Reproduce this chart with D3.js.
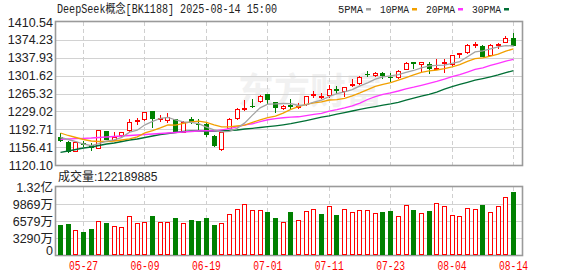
<!DOCTYPE html>
<html>
<head>
<meta charset="utf-8">
<script src="https://cdn.jsdelivr.net/npm/d3@7"></script>
<style>
  body { margin: 0; background: #fff; }
  #chart text { font-family: "Liberation Sans", Arial, "Noto Sans CJK SC", sans-serif; }
</style>
</head>
<body>
<div id="chart"></div>
<script>
const titleText = "DeepSeek概念[BK1188] 2025-08-14 15:00";
const lastVolume = 122189885;

const dates = ["05-22","05-23","05-26","05-27","05-28","05-29","05-30","06-03","06-04","06-05",
  "06-06","06-09","06-10","06-11","06-12","06-13","06-16","06-17","06-18","06-19",
  "06-20","06-23","06-24","06-25","06-26","06-27","06-30","07-01","07-02","07-03",
  "07-04","07-07","07-08","07-09","07-10","07-11","07-14","07-15","07-16","07-17",
  "07-18","07-21","07-22","07-23","07-24","07-25","07-28","07-29","07-30","07-31",
  "08-01","08-04","08-05","08-06","08-07","08-08","08-11","08-12","08-13","08-14"];

const openP = [1175.96,1166.21,1147.11,1165.39,1160.72,1153.61,1189.16,1169.86,1178.39,1189.16,
  1208.05,1212.11,1229.17,1210.89,1210.48,1213.12,1184.49,1214.14,1203.38,1203.38,
  1179.00,1149.96,1193.83,1213.53,1233.84,1239.93,1247.45,1264.31,1248.06,1233.23,
  1241.97,1235.26,1240.95,1261.26,1258.21,1260.25,1274.46,1268.98,1279.95,1283.60,
  1305.54,1300.87,1305.95,1297.82,1295.79,1313.05,1328.69,1323.82,1325.85,1313.66,
  1325.85,1322.60,1342.51,1346.97,1363.83,1362.41,1342.10,1362.41,1367.28,1378.66];

const closeP = [1169.86,1145.49,1166.21,1160.11,1154.63,1190.78,1171.89,1177.58,1186.52,1207.03,
  1210.89,1227.14,1212.92,1215.97,1216.58,1185.10,1208.45,1207.44,1202.36,1181.03,
  1158.69,1187.74,1212.92,1233.23,1235.87,1237.90,1260.25,1252.12,1234.86,1239.93,
  1237.29,1240.54,1259.23,1263.29,1259.64,1273.85,1269.39,1277.92,1284.62,1298.84,
  1303.51,1306.96,1300.87,1296.20,1311.02,1326.66,1325.24,1328.69,1315.09,1316.10,
  1329.91,1342.91,1346.97,1363.83,1365.86,1340.07,1363.83,1366.47,1377.03,1361.80];

const highP = [1185.10,1168.85,1167.83,1169.46,1165.39,1191.19,1190.17,1188.14,1188.14,1212.52,
  1215.56,1228.76,1229.78,1221.66,1224.70,1213.53,1209.47,1216.98,1212.92,1208.05,
  1181.03,1188.14,1215.56,1235.87,1252.12,1254.15,1261.26,1265.32,1249.07,1240.95,
  1253.54,1246.03,1260.25,1270.40,1266.95,1282.59,1280.56,1278.53,1294.17,1299.85,
  1311.63,1309.60,1308.99,1306.35,1312.04,1328.29,1329.30,1329.30,1328.69,1334.79,
  1335.40,1343.52,1347.58,1364.85,1370.53,1362.82,1364.85,1367.89,1381.10,1388.81];

const lowP = [1166.82,1144.47,1146.50,1157.27,1149.55,1153.21,1170.88,1169.46,1176.97,1188.14,
  1201.95,1209.47,1194.64,1207.44,1204.39,1184.08,1184.08,1203.38,1191.19,1176.36,
  1156.05,1149.55,1193.22,1211.50,1230.39,1235.26,1246.64,1244.00,1226.33,1232.42,
  1231.81,1233.23,1239.93,1255.17,1253.54,1255.57,1264.31,1258.21,1279.14,1282.59,
  1298.23,1298.23,1294.17,1289.29,1294.77,1312.45,1315.09,1306.96,1304.32,1313.05,
  1307.57,1321.18,1336.41,1345.55,1357.13,1339.46,1341.49,1355.71,1366.88,1361.80];

// volume in 万 (10k)
const volumeWan = [5780,5972,4759,4431,4951,6493,6165,5529,5337,7456,
  6107,6358,7514,6358,6358,7128,6165,6743,6608,7128,
  5780,6165,7899,8997,9826,8804,8804,8284,7128,6358,
  8284,6685,8477,8997,7899,9575,7706,8997,8227,8804,
  8804,8092,8284,8477,7514,9633,8670,8092,8477,10153,
  9440,7706,7514,9055,8862,9633,8284,9440,11174,12219];

const ma5 = [1175.96,1171.89,1167.83,1162.75,1159.30,1163.36,1168.64,1171.08,1176.36,1186.72,
  1190.78,1201.75,1208.86,1214.75,1216.78,1211.50,1207.84,1206.62,1203.98,1196.88,
  1191.59,1187.53,1188.55,1194.64,1205.61,1221.45,1236.08,1243.79,1244.20,1245.01,
  1244.81,1240.95,1242.37,1248.06,1251.92,1259.23,1265.12,1268.78,1273.04,1280.96,
  1286.85,1294.37,1299.04,1301.27,1303.71,1308.38,1312.04,1317.52,1321.38,1322.40,
  1323.01,1326.46,1330.12,1339.87,1349.82,1351.85,1356.11,1359.97,1362.61,1361.80];

const ma10 = [1185.10,1180.02,1175.96,1171.89,1168.85,1167.83,1167.83,1168.85,1170.88,1173.01,
  1177.11,1185.28,1189.95,1195.54,1201.73,1201.16,1204.82,1207.80,1209.39,1206.79,
  1201.57,1197.63,1197.63,1199.35,1201.28,1206.56,1211.74,1216.21,1219.46,1225.35,
  1233.21,1238.49,1243.12,1246.13,1248.51,1252.10,1253.02,1255.59,1260.57,1266.46,
  1273.08,1279.72,1283.89,1287.18,1292.32,1297.60,1303.18,1308.26,1311.31,1313.03,
  1315.67,1319.27,1323.88,1330.64,1336.13,1337.47,1341.33,1345.10,1351.30,1355.87];

const ma20 = [1172.30,1172.91,1173.52,1174.33,1174.94,1175.96,1176.97,1177.99,1179.00,1180.02,
  1181.03,1182.05,1183.06,1184.08,1185.10,1186.11,1187.13,1188.14,1189.16,1189.89,
  1189.34,1191.45,1193.79,1197.44,1201.51,1203.86,1208.27,1212.01,1214.42,1216.07,
  1217.39,1218.06,1220.38,1222.73,1224.88,1229.33,1232.38,1235.89,1240.02,1245.91,
  1253.14,1259.11,1263.50,1266.64,1270.40,1274.85,1278.10,1281.92,1285.94,1289.74,
  1294.37,1299.49,1303.87,1308.91,1314.21,1317.52,1322.26,1326.68,1331.29,1334.44];

const ma30 = [1145.90,1148.54,1151.58,1154.63,1156.66,1159.71,1162.75,1164.78,1167.83,1170.88,
  1172.91,1175.96,1179.00,1182.05,1184.08,1186.11,1188.14,1189.16,1189.16,1189.16,
  1189.16,1189.77,1190.17,1191.19,1193.22,1194.64,1196.27,1197.89,1199.72,1201.71,
  1203.96,1207.13,1210.24,1213.67,1217.17,1219.95,1223.20,1226.53,1229.80,1232.87,
  1235.95,1238.61,1241.54,1244.22,1247.37,1252.08,1255.98,1260.02,1263.78,1268.29,
  1274.00,1279.16,1283.62,1287.99,1292.32,1295.73,1299.18,1302.98,1307.73,1311.80];

const priceTicks = [1410.54,1374.23,1337.93,1301.62,1265.32,1229.02,1192.71,1156.41,1120.10];
const volumeTicks = [0, 3289.75, 6579.5, 9869.25, 13159];
const volumeTickLabels = ["0","3290万","6579万","9869万","1.32亿"];
const xLabelDates = ["05-27","06-09","06-19","07-01","07-11","07-23","08-04","08-14"];

const maNames = ["5PMA","10PMA","20PMA","30PMA"];
const maColors = ["#a3a3a3","#f2a000","#ff33ff","#006f35"];

let svg, xScale, yScale, yVolScale;
const RED = "#ff0000", GREEN = "#008000";
const plotLeft = 56, plotRight = 522;

document.addEventListener('DOMContentLoaded', function () {
    svg = d3.select("#chart").append("svg")
        .attr("width", 578)
        .attr("height", 276);

    xScale = d3.scalePoint().domain(dates).range([60, 513]);
    yScale = d3.scaleLinear().domain([1120.10, 1410.54]).range([165, 22]);
    yVolScale = d3.scaleLinear().domain([0, 13159]).range([255, 187]);

    createHeader();
    createPriceChart();
    createVolumeChart();
});

function px(v) { return Math.round(v) + 0.5; }

function createHeader() {
    svg.append("text")
        .attr("x", 57).attr("y", 13)
        .attr("textLength", 220).attr("lengthAdjust", "spacingAndGlyphs")
        .style("font-family", "'Liberation Mono', 'Noto Sans CJK SC', monospace")
        .style("font-size", "12px")
        .attr("fill", "#222")
        .text(titleText);

    const legendX = [338, 380, 426, 472];
    const legendW = [25, 29, 29, 29];
    maNames.forEach(function (name, i) {
        svg.append("text")
            .attr("x", legendX[i]).attr("y", 12.5)
            .attr("textLength", legendW[i]).attr("lengthAdjust", "spacingAndGlyphs")
            .style("font-family", "'Liberation Mono', monospace")
            .style("font-size", "11px")
            .attr("fill", "#222")
            .text(name);
        svg.append("rect")
            .attr("x", legendX[i] + legendW[i] + 3).attr("y", 8)
            .attr("width", 5).attr("height", 2.5)
            .attr("fill", maColors[i]);
    });
}

function drawGrid(yTop, yBottom, yValues) {
    yValues.forEach(function (yy) {
        svg.append("line")
            .attr("x1", plotLeft).attr("x2", plotRight)
            .attr("y1", px(yy)).attr("y2", px(yy))
            .attr("stroke", "#d2d2d2").attr("stroke-width", 1);
    });
    xLabelDates.forEach(function (d) {
        svg.append("line")
            .attr("x1", px(xScale(d))).attr("x2", px(xScale(d)))
            .attr("y1", yTop).attr("y2", yBottom)
            .attr("stroke", "#cfcfcf").attr("stroke-width", 1)
            .attr("stroke-dasharray", "4,3");
    });
    svg.append("rect")
        .attr("x", plotLeft - 0.5).attr("y", yTop - 0.5)
        .attr("width", plotRight - plotLeft + 1).attr("height", yBottom - yTop + 1)
        .attr("fill", "none").attr("stroke", "#9a9a9a").attr("stroke-width", 1.6);
}

function createPriceChart() {
    // watermark
    svg.append("text")
        .attr("x", 238).attr("y", 104)
        .style("font-family", "'Noto Sans CJK SC', sans-serif")
        .style("font-size", "36px").style("font-weight", "bold")
        .attr("fill", "#f1f1f1")
        .text("东方财富");

    drawGrid(22, 165, priceTicks.map(t => yScale(t)).filter(v => v > 23 && v < 164));

    svg.selectAll(".ylabel")
        .data(priceTicks)
        .enter().append("text")
        .attr("class", "ylabel")
        .attr("x", 53).attr("y", d => yScale(d))
        .attr("dy", "0.36em")
        .attr("text-anchor", "end")
        .style("font-size", "12.5px")
        .attr("fill", "#222")
        .text(d => d.toFixed(2));

    const candles = dates.map(function (d, i) {
        return { date: d, open: openP[i], close: closeP[i], high: highP[i], low: lowP[i] };
    });

    const g = svg.append("g").attr("shape-rendering", "crispEdges");

    candles.forEach(function (c) {
        const cx = Math.round(xScale(c.date));
        const up = c.close >= c.open;
        const color = up ? RED : GREEN;
        const yTop = Math.round(yScale(Math.max(c.open, c.close)));
        let yBot = Math.round(yScale(Math.min(c.open, c.close)));
        if (yBot - yTop < 1) yBot = yTop + 1;
        const yHigh = Math.round(yScale(c.high));
        const yLow = Math.round(yScale(c.low));

        if (up) {
            if (yHigh < yTop) g.append("line").attr("x1", cx + 0.5).attr("x2", cx + 0.5)
                .attr("y1", yHigh).attr("y2", yTop).attr("stroke", color);
            if (yLow > yBot) g.append("line").attr("x1", cx + 0.5).attr("x2", cx + 0.5)
                .attr("y1", yBot).attr("y2", yLow).attr("stroke", color);
            g.append("rect")
                .attr("x", cx - 1.5).attr("y", yTop + 0.5)
                .attr("width", 4).attr("height", Math.max(yBot - yTop - 1, 0.5))
                .attr("fill", "#fff").attr("stroke", color).attr("stroke-width", 1);
        } else {
            g.append("line").attr("x1", cx + 0.5).attr("x2", cx + 0.5)
                .attr("y1", yHigh).attr("y2", yLow).attr("stroke", color);
            g.append("rect")
                .attr("x", cx - 2).attr("y", yTop)
                .attr("width", 5).attr("height", yBot - yTop)
                .attr("fill", color);
        }
    });

    const maSeries = [ma5, ma10, ma20, ma30];
    const line = d3.line()
        .x((v, i) => xScale(dates[i]) + 0.5)
        .y(v => yScale(v));

    // draw the long averages first
    [3, 2, 1, 0].forEach(function (k) {
        svg.append("path")
            .datum(maSeries[k])
            .attr("fill", "none")
            .attr("stroke", maColors[k])
            .attr("stroke-width", 1.3)
            .attr("d", line);
    });
}

function createVolumeChart() {
    svg.append("text")
        .attr("x", 58).attr("y", 181)
        .style("font-size", "12px")
        .attr("fill", "#222")
        .text("成交量:" + lastVolume);

    drawGrid(187, 255, volumeTicks.map(t => yVolScale(t)).filter(v => v > 188 && v < 254));

    svg.selectAll(".vlabel")
        .data(volumeTicks)
        .enter().append("text")
        .attr("class", "vlabel")
        .attr("x", 53).attr("y", d => yVolScale(d))
        .attr("dy", (d, i) => i == 0 ? "0" : "0.36em")
        .attr("text-anchor", "end")
        .style("font-size", "12.5px")
        .attr("fill", "#222")
        .text((d, i) => volumeTickLabels[i]);

    const g = svg.append("g").attr("shape-rendering", "crispEdges");

    dates.forEach(function (d, i) {
        const cx = Math.round(xScale(d));
        // bar colour follows the change against the previous close
        const up = i == 0 ? closeP[i] >= openP[i] : closeP[i] >= closeP[i - 1];
        const yTop = Math.round(yVolScale(volumeWan[i]));
        if (up) {
            g.append("rect")
                .attr("x", cx - 1.5).attr("y", yTop + 0.5)
                .attr("width", 4).attr("height", 255 - yTop - 1)
                .attr("fill", "#fff").attr("stroke", RED).attr("stroke-width", 1);
        } else {
            g.append("rect")
                .attr("x", cx - 2).attr("y", yTop)
                .attr("width", 5).attr("height", 255 - yTop)
                .attr("fill", GREEN);
        }
    });

    svg.selectAll(".xlabel")
        .data(xLabelDates)
        .enter().append("text")
        .attr("class", "xlabel")
        .attr("x", d => xScale(d) + 0.5 - 14.5)
        .attr("y", 270)
        .attr("textLength", 29).attr("lengthAdjust", "spacingAndGlyphs")
        .style("font-family", "'Liberation Mono', monospace")
        .style("font-size", "12px")
        .attr("fill", RED)
        .text(d => d);
}
</script>
</body>
</html>
